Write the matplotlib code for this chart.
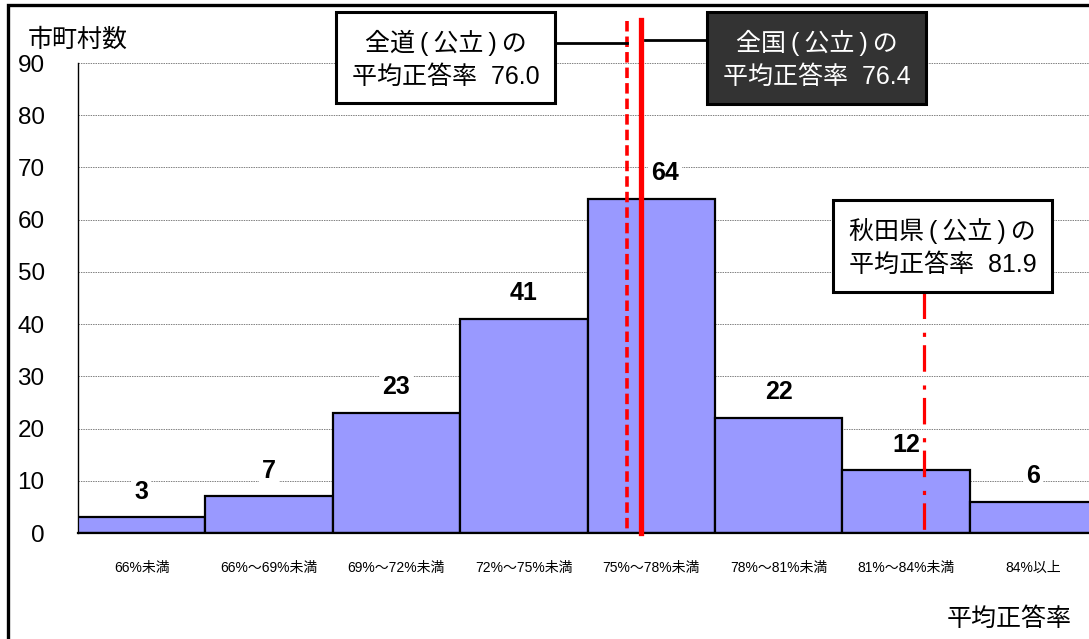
import matplotlib
matplotlib.use("Agg")
import matplotlib.pyplot as plt
from matplotlib.patches import Rectangle
from matplotlib.lines import Line2D

plt.rcParams['font.family'] = ['Liberation Sans', 'Noto Sans CJK JP', 'DejaVu Sans']

categories = ["66%未満", "66%～69%未満", "69%～72%未満", "72%～75%未満",
              "75%～78%未満", "78%～81%未満", "81%～84%未満", "84%以上"]
counts = [3, 7, 23, 41, 64, 22, 12, 6]
yticks = [0, 10, 20, 30, 40, 50, 60, 70, 80, 90]

# reference lines: label, value, position on the category axis
ref_names = ["全道\u2009(\u2009公立\u2009)\u2009の", "全国\u2009(\u2009公立\u2009)\u2009の",
             "秋田県\u2009(\u2009公立\u2009)\u2009の"]
ref_values = ["76.0", "76.4", "81.9"]
ref_pos = [4.31, 4.42, 6.64]

W, H = 1089, 639
fig = plt.figure(figsize=(W / 100, H / 100), dpi=100)


def fx(x):
    return x / W


def fy(y):
    return 1 - y / H


ax = fig.add_axes([fx(78), fy(533), 1019 / W, 470 / H])
x = [i + 0.5 for i in range(len(counts))]
ax.bar(x, counts, width=1.0, color="#9999ff", edgecolor="black", linewidth=1.6, zorder=3)
ax.set_xlim(0, 8)
ax.set_ylim(0, 90)
ax.set_yticks(yticks)
ax.set_yticklabels([str(v) for v in yticks], fontsize=17.5)
ax.set_xticks(x)
ax.set_xticklabels(categories, fontsize=10)
ax.tick_params(axis="y", length=0, pad=24)
ax.tick_params(axis="x", length=0, pad=20)
for v in yticks[1:]:
    ax.axhline(v, color="#808080", lw=0.7, ls=(0, (1.5, 1)), zorder=1)
for s in ["top", "right"]:
    ax.spines[s].set_visible(False)
ax.spines["left"].set_linewidth(1.0)
ax.spines["bottom"].set_linewidth(1.6)
ax.spines["bottom"].set_zorder(4)

for i, c in enumerate(counts):
    dx = 10 if c == max(counts) else 0
    ax.annotate(str(c), (x[i], c), xytext=(dx, 18.5), textcoords="offset points",
                ha="center", va="center", fontsize=18, fontweight="bold", zorder=5,
                bbox=dict(facecolor="white", edgecolor="none", pad=2))

# vertical reference lines
ax.plot([ref_pos[0]] * 2, [98, 0], color="red", lw=2.6, ls=(0, (2.9, 1.4)),
        clip_on=False, zorder=6)
ax.plot([ref_pos[1]] * 2, [98.2, 0], color="red", lw=3.8, clip_on=False, zorder=6)
ax.plot([ref_pos[2]] * 2, [46.1, -1.3], color="red", lw=2.3,
        ls=(0, (8.3, 4.3, 1.3, 2.6)), clip_on=False, zorder=6)

# connectors
fig.add_artist(Line2D([fx(555), fx(627)], [fy(43), fy(43)], color="black", lw=2))
fig.add_artist(Line2D([fx(645), fx(707)], [fy(40), fy(40)], color="black", lw=2))


def box(x0, y0, x1, y1, name, val, fc, tc):
    fig.add_artist(Rectangle((fx(x0), fy(y1)), fx(x1 - x0), (y1 - y0) / H,
                             transform=fig.transFigure, facecolor=fc,
                             edgecolor="black", lw=2.2, zorder=10))
    cx = fx((x0 + x1) / 2)
    fig.text(cx, fy(y0 + 31), name, ha="center", va="center", fontsize=18,
             color=tc, zorder=11)
    fig.text(cx, fy(y0 + 65), "平均正答率  " + val, ha="center", va="center",
             fontsize=18, color=tc, zorder=11)


box(336, 12, 555, 103, ref_names[0], ref_values[0], "white", "black")
box(707, 12, 926, 104, ref_names[1], ref_values[1], "#333333", "white")
box(833, 200, 1052, 292, ref_names[2], ref_values[2], "white", "black")

fig.text(fx(28), fy(40), "市町村数", ha="left", va="center", fontsize=18)
fig.text(fx(1072), fy(619), "平均正答率", ha="right", va="center", fontsize=18)

# outer frame (cut off at right and bottom)
fig.add_artist(Rectangle((fx(8), -0.2), 1.2, fy(5) + 0.2, transform=fig.transFigure,
                         facecolor="none", edgecolor="black", lw=2.4, zorder=12))

fig.savefig("out.png", dpi=100)
